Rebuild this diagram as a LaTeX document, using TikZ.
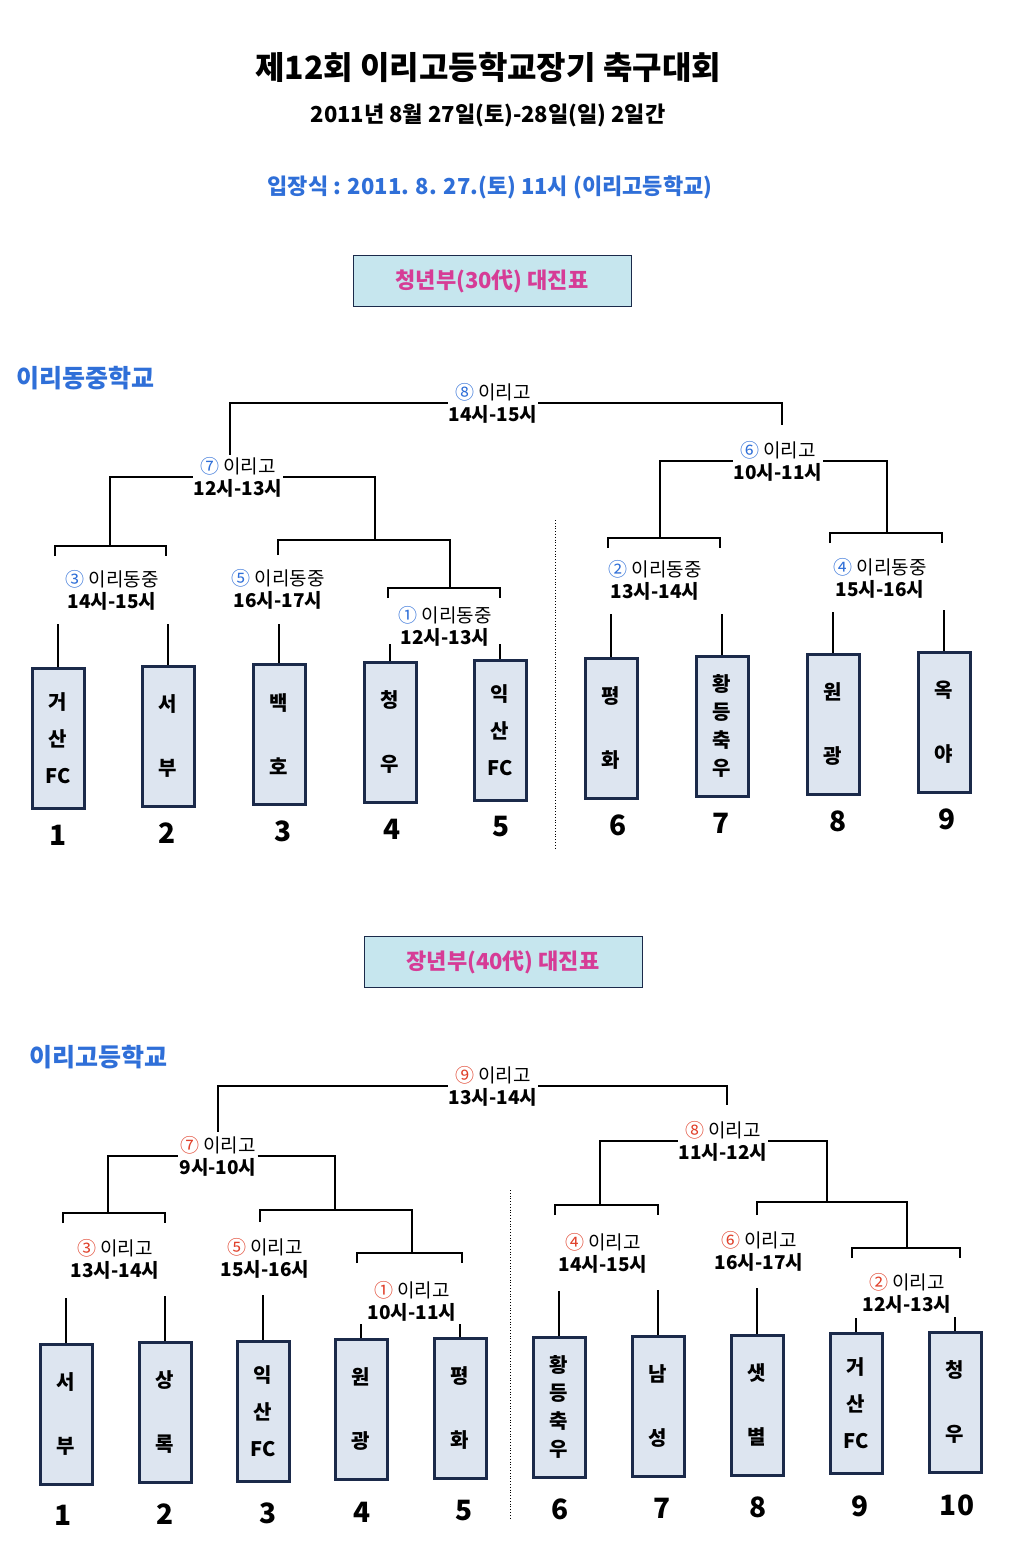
\documentclass[tikz,border=0pt]{standalone}
\usepackage{fontspec}
\setmainfont{Noto Sans CJK KR}
\definecolor{cblue}{HTML}{2F6FD8}
\definecolor{cred}{HTML}{E0402A}
\definecolor{navy}{HTML}{1B2A4A}
\definecolor{boxfill}{HTML}{DDE5F0}
\definecolor{headfill}{HTML}{C6E6EE}
\definecolor{headtext}{HTML}{D63C96}
\tikzset{
  team/.style={draw=navy, line width=3pt, fill=boxfill, minimum width=52pt, minimum height=140pt,
    inner sep=0pt, align=center, font=\fontsize{20}{24}\selectfont\bfseries},
  num/.style={font=\fontsize{28}{30}\selectfont\bfseries},
  match/.style={align=center, font=\fontsize{19}{22}\selectfont, inner sep=1pt},
  head/.style={draw=navy, line width=1pt, fill=headfill, minimum width=278pt, minimum height=51pt,
    text=headtext, font=\fontsize{22}{24}\selectfont\bfseries},
  school/.style={text=cblue, font=\fontsize{25}{27}\selectfont\bfseries, anchor=west},
  wire/.style={line width=2.5pt},
}
\begin{document}
\begin{tikzpicture}[x=1pt, y=-1pt]
	\useasboundingbox[fill=white] (0,0) rectangle (1024,1544);

	% titles
	\node[font=\fontsize{32}{34}\selectfont\bfseries] (title) at (488,67) {제12회 이리고등학교장기 축구대회};
	\node[font=\fontsize{22}{24}\selectfont\bfseries] (date) at (488,115) {2011년 8월 27일(토)-28일(일) 2일간};
	\node[text=cblue, font=\fontsize{22}{24}\selectfont\bfseries] (open) at (490,187) {입장식 : 2011. 8. 27.(토) 11시 (이리고등학교)};

	% ---- 청년부 ----
	\node[head] (head1) at (492,281) {청년부(30代) 대진표};
	\node[school] (place1) at (13,378) {이리동중학교};

	\node[team] (a1) at (58,738) {거\\[13pt]산\\[13pt]FC};
	\node[team] (a2) at (168,736) {서\\[40pt]부};
	\node[team] (a3) at (279,734) {백\\[40pt]호};
	\node[team] (a4) at (390,732) {청\\[40pt]우};
	\node[team] (a5) at (500,730) {익\\[13pt]산\\[13pt]FC};
	\node[team] (a6) at (611,728) {평\\[40pt]화};
	\node[team] (a7) at (722,726) {황\\[4pt]등\\[4pt]축\\[4pt]우};
	\node[team] (a8) at (833,724) {원\\[40pt]광};
	\node[team] (a9) at (944,722) {옥\\[40pt]야};
	\foreach \i/\x/\y in {1/58/835,2/167/833,3/283/831,4/392/829,5/501/827,6/618/825,7/721/823,8/838/821,9/947/819}
		\node[num] (an\i) at (\x,\y) {\i};

	\node[match] (m8) at (493,403) {{\color{cblue}⑧} 이리고\\\textbf{14시-15시}};
	\node[match] (m7) at (238,477) {{\color{cblue}⑦} 이리고\\\textbf{12시-13시}};
	\node[match] (m6) at (778,461) {{\color{cblue}⑥} 이리고\\\textbf{10시-11시}};
	\node[match] (m3) at (112,590) {{\color{cblue}③} 이리동중\\\textbf{14시-15시}};
	\node[match] (m5) at (278,589) {{\color{cblue}⑤} 이리동중\\\textbf{16시-17시}};
	\node[match] (m1) at (445,626) {{\color{cblue}①} 이리동중\\\textbf{12시-13시}};
	\node[match] (m2) at (655,580) {{\color{cblue}②} 이리동중\\\textbf{13시-14시}};
	\node[match] (m4) at (880,578) {{\color{cblue}④} 이리동중\\\textbf{15시-16시}};

	\foreach \t/\h in {a1/43,a2/41,a3/39,a4/17,a5/15,a6/43,a7/41,a8/41,a9/41}
		\draw[wire] (\t.north) -- ++(0,-\h);

	\draw[wire] (55,556) |- (166,546) -- (166,556);
	\draw[wire] (278,555) |- (450,540) -- (450,588);
	\draw[wire] (388,598) |- (500,588) -- (500,598);
	\draw[wire] (608,548) |- (720,538) -- (720,548);
	\draw[wire] (830,543) |- (942,533) -- (942,543);
	\draw[wire] (110,546) |- (m7.west);
	\draw[wire] (m7.east) -| (375,540);
	\draw[wire] (230,455) |- (m8.west);
	\draw[wire] (m8.east) -| (782,425);
	\draw[wire] (660,538) |- (m6.west);
	\draw[wire] (m6.east) -| (887,533);
	\draw[dotted, thick] (555,520) -- (555,850);

	% ---- 장년부 ----
	\node[head] (head2) at (503,962) {장년부(40代) 대진표};
	\node[school] (place2) at (26,1057) {이리고등학교};

	\node[team] (b1) at (66,1414) {서\\[40pt]부};
	\node[team] (b2) at (165,1412) {상\\[40pt]록};
	\node[team] (b3) at (263,1411) {익\\[13pt]산\\[13pt]FC};
	\node[team] (b4) at (361,1409) {원\\[40pt]광};
	\node[team] (b5) at (460,1408) {평\\[40pt]화};
	\node[team] (b6) at (559,1407) {황\\[4pt]등\\[4pt]축\\[4pt]우};
	\node[team] (b7) at (658,1406) {남\\[40pt]성};
	\node[team] (b8) at (757,1405) {샛\\[40pt]별};
	\node[team] (b9) at (856,1403) {거\\[13pt]산\\[13pt]FC};
	\node[team] (b10) at (955,1402) {청\\[40pt]우};
	\foreach \i/\x/\y in {1/63/1515,2/165/1514,3/268/1513,4/362/1512,5/464/1511,6/560/1509,7/662/1508,8/758/1507,9/860/1506,10/957/1505}
		\node[num] (bn\i) at (\x,\y) {\i};

	\node[match] (c9) at (493,1086) {{\color{cred}⑨} 이리고\\\textbf{13시-14시}};
	\node[match] (c7) at (218,1156) {{\color{cred}⑦} 이리고\\\textbf{9시-10시}};
	\node[match] (c8) at (723,1141) {{\color{cred}⑧} 이리고\\\textbf{11시-12시}};
	\node[match] (c3) at (115,1259) {{\color{cred}③} 이리고\\\textbf{13시-14시}};
	\node[match] (c5) at (265,1258) {{\color{cred}⑤} 이리고\\\textbf{15시-16시}};
	\node[match] (c1) at (412,1301) {{\color{cred}①} 이리고\\\textbf{10시-11시}};
	\node[match] (c4) at (603,1253) {{\color{cred}④} 이리고\\\textbf{14시-15시}};
	\node[match] (c6) at (759,1251) {{\color{cred}⑥} 이리고\\\textbf{16시-17시}};
	\node[match] (c2) at (907,1293) {{\color{cred}②} 이리고\\\textbf{12시-13시}};

	\foreach \t/\h in {b1/45,b2/45,b3/45,b4/14,b5/13,b6/45,b7/45,b8/46,b9/14,b10/14}
		\draw[wire] (\t.north) -- ++(0,-\h);

	\draw[wire] (63,1223) |- (165,1213) -- (165,1223);
	\draw[wire] (260,1222) |- (412,1210) -- (412,1253);
	\draw[wire] (357,1263) |- (462,1253) -- (462,1263);
	\draw[wire] (555,1215) |- (658,1205) -- (658,1215);
	\draw[wire] (757,1215) |- (907,1202) -- (907,1248);
	\draw[wire] (852,1258) |- (960,1248) -- (960,1258);
	\draw[wire] (108,1213) |- (c7.west);
	\draw[wire] (c7.east) -| (335,1210);
	\draw[wire] (218,1132) |- (c9.west);
	\draw[wire] (c9.east) -| (727,1105);
	\draw[wire] (600,1205) |- (c8.west);
	\draw[wire] (c8.east) -| (827,1202);
	\draw[dotted, thick] (510,1190) -- (510,1520);
\end{tikzpicture}
\end{document}
